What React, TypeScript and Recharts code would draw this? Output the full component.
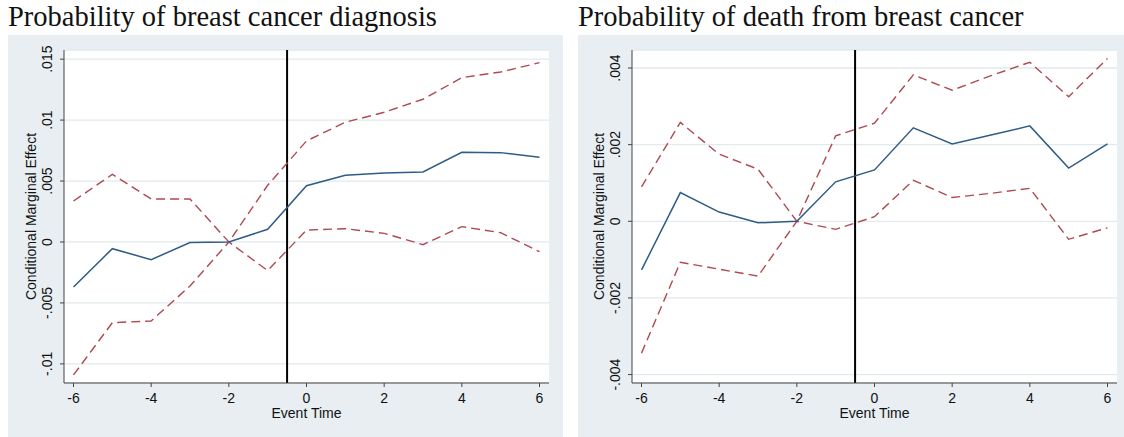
import { LineChart, Line, XAxis, YAxis, CartesianGrid, ReferenceLine } from "recharts";

// event time relative to the policy (-6 .. 6)
const eventTime = [-6, -5, -4, -3, -2, -1, 0, 1, 2, 3, 4, 5, 6];

// panel 1: probability of breast cancer diagnosis
const diagEffect = [-0.0037, -0.00055, -0.00145, -0.00005, 0, 0.00104, 0.00462, 0.00547, 0.00566, 0.00574, 0.00736, 0.00733, 0.00695];
const diagUpper = [0.00336, 0.00555, 0.00353, 0.00353, 0, 0.00465, 0.00829, 0.00982, 0.01064, 0.01171, 0.01348, 0.01395, 0.01471];
const diagLower = [-0.01091, -0.00662, -0.00648, -0.00361, 0, -0.00235, 0.00098, 0.00109, 0.00071, -0.00022, 0.00126, 0.00076, -0.0008];

// panel 2: probability of death from breast cancer
const deathEffect = [-0.00127, 0.00075, 0.00024, -0.00004, 0, 0.00103, 0.00134, 0.00244, 0.00202, 0.00225, 0.00249, 0.00139, 0.00202];
const deathUpper = [0.0009, 0.00258, 0.00175, 0.00136, 0, 0.00223, 0.00256, 0.00382, 0.00342, 0.0038, 0.00415, 0.00325, 0.00425];
const deathLower = [-0.00344, -0.00107, -0.00125, -0.00143, 0, -0.00021, 0.00012, 0.00107, 0.00062, 0.00073, 0.00086, -0.00047, -0.00017];

const xTicks = [-6, -4, -2, 0, 2, 4, 6];
const diagTicks = [-0.01, -0.005, 0, 0.005, 0.01, 0.015];
const deathTicks = [-0.004, -0.002, 0, 0.002, 0.004];
const eventLine = -0.5;

const SANS = "'Liberation Sans', Arial, sans-serif";
const SERIF = "'Liberation Serif', 'Times New Roman', serif";
const BG = "#e8eef1";
const BLUE = "#2f5c86";
const RED = "#ad4a52";

// stata style: .015, -.005, 0
const stataNum = (v: number) => (v === 0 ? "0" : String(v).replace("0.", "."));

const YTick = (props: any) => {
  const { x, y, payload } = props;
  return (
    <text
      x={x}
      y={y}
      transform={`rotate(-90 ${x} ${y})`}
      textAnchor="middle"
      fontSize={14}
      fontFamily={SANS}
      fill="#111"
    >
      {stataNum(payload.value)}
    </text>
  );
};

const YTitle = (props: any) => {
  const { viewBox } = props;
  const cx = viewBox.x + viewBox.width - 28;
  const cy = viewBox.y + viewBox.height / 2;
  return (
    <text x={cx} y={cy} transform={`rotate(-90 ${cx} ${cy})`} textAnchor="middle" fontSize={14} fontFamily={SANS} fill="#111">
      Conditional Marginal Effect
    </text>
  );
};

const XTitle = (props: any) => {
  const { viewBox } = props;
  return (
    <text x={viewBox.x + viewBox.width / 2} y={viewBox.y + 34.5} textAnchor="middle" fontSize={14} fontFamily={SANS} fill="#111">
      Event Time
    </text>
  );
};

interface PanelProps {
  title: string;
  left: number;
  width: number;
  axisWidth: number;
  rightGap: number;
  effect: number[];
  upper: number[];
  lower: number[];
  yTicks: number[];
  yDomain: [number, number];
}

function Panel({ title, left, width, axisWidth, rightGap, effect, upper, lower, yTicks, yDomain }: PanelProps) {
  const data = eventTime.map((t, i) => ({ t, effect: effect[i], upper: upper[i], lower: lower[i] }));
  return (
    <>
      <div
        style={{
          position: "absolute",
          left: left,
          top: 3,
          fontFamily: SERIF,
          fontSize: 28.5,
          lineHeight: 1,
          whiteSpace: "nowrap",
          color: "#111",
        }}
      >
        {title}
      </div>
      <div style={{ position: "absolute", left: left, top: 35, width: width, height: 402, background: BG }}>
        <LineChart width={width} height={402} data={data} margin={{ top: 15, right: rightGap, bottom: 0, left: 0 }}>
          <CartesianGrid fill="#fff" vertical={false} stroke="#e2eaed" strokeWidth={1.3} />
          <XAxis
            dataKey="t"
            type="number"
            domain={[-6.245, 6.245]}
            ticks={xTicks}
            allowDataOverflow
            height={54}
            tickSize={4}
            tickMargin={6}
            stroke="#444"
            tick={{ fill: "#111", fontSize: 14, fontFamily: SANS }}
            label={<XTitle />}
          />
          <YAxis
            type="number"
            domain={yDomain}
            ticks={yTicks}
            allowDataOverflow
            width={axisWidth}
            tickSize={4}
            tickMargin={8}
            stroke="#444"
            tick={<YTick />}
            label={<YTitle />}
          />
          <ReferenceLine x={eventLine} stroke="#000" strokeWidth={2} />
          <Line dataKey="upper" stroke={RED} strokeWidth={1.4} strokeDasharray="9 5" dot={false} isAnimationActive={false} />
          <Line dataKey="lower" stroke={RED} strokeWidth={1.4} strokeDasharray="9 5" dot={false} isAnimationActive={false} />
          <Line dataKey="effect" stroke={BLUE} strokeWidth={1.5} dot={false} isAnimationActive={false} />
        </LineChart>
      </div>
    </>
  );
}

export default function App() {
  return (
    <div style={{ position: "absolute", left: 0, top: 0, width: 1124, height: 437, background: "#fff", overflow: "hidden" }}>
      <Panel
        title="Probability of breast cancer diagnosis"
        left={8}
        width={555}
        axisWidth={56}
        rightGap={14}
        effect={diagEffect}
        upper={diagUpper}
        lower={diagLower}
        yTicks={diagTicks}
        yDomain={[-0.01157, 0.01575]}
      />
      <Panel
        title="Probability of death from breast cancer"
        left={578}
        width={546}
        axisWidth={54}
        rightGap={7}
        effect={deathEffect}
        upper={deathUpper}
        lower={deathLower}
        yTicks={deathTicks}
        yDomain={[-0.00422, 0.00447]}
      />
    </div>
  );
}
